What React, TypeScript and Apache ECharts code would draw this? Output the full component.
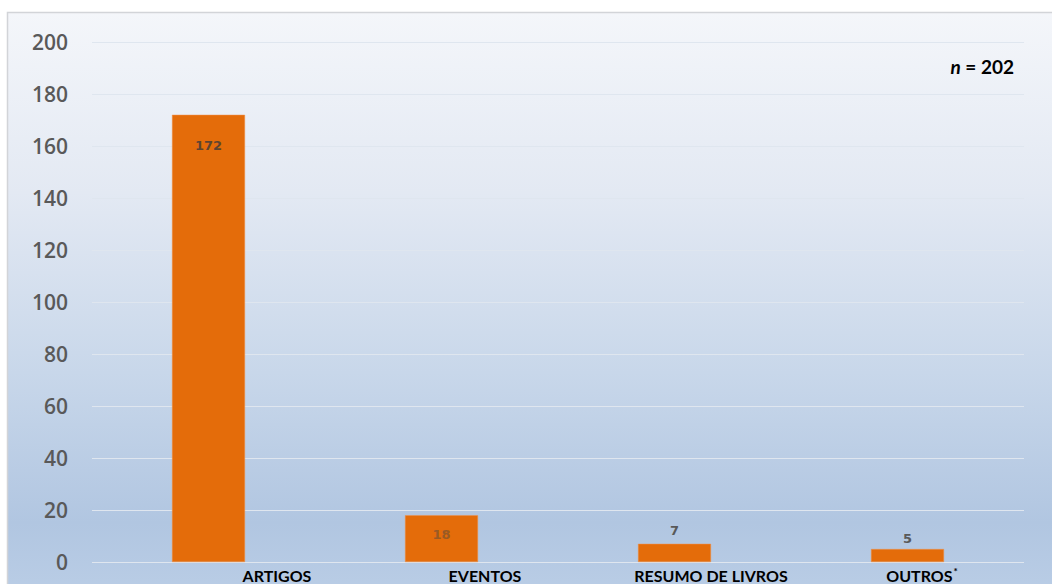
import React, { useEffect, useRef } from "react";
import * as echarts from "echarts";

const categories = ["ARTIGOS", "EVENTOS", "RESUMO DE LIVROS", "OUTROS"];
const values = [172, 18, 7, 5];
const yTicks = { min: 0, max: 200, interval: 20 };
const totalLabel = "202";

export default function App() {
  const ref = useRef<HTMLDivElement>(null);
  useEffect(() => {
    document.body.style.margin = "0";
    const chart = echarts.init(ref.current!, null, { renderer: "svg" });
    const labelStyles = [
      { position: "insideTop", distance: 24, color: "#5e4430" },
      { position: "insideTop", distance: 13, color: "#9a5a24" },
      { position: "top", distance: 7, color: "#595959" },
      { position: "top", distance: 4, color: "#595959" },
    ];
    const padLeft = [137, 87, 73, 29];
    const rich: any = {
      sup: { fontFamily: "Lato", fontWeight: "bold", fontSize: 10, lineHeight: 10, color: "#000", verticalAlign: "top", padding: [0, 0, 0, 1] },
    };
    padLeft.forEach((p, i) => {
      rich["c" + i] = { fontFamily: "Lato", fontWeight: "bold", fontSize: 16, lineHeight: 18, color: "#000", padding: [0, 0, 0, p] };
    });
    chart.setOption({
      animation: false,
      graphic: [
        {
          type: "rect",
          z: -100,
          silent: true,
          shape: { x: 7.5, y: 12.5, width: 1060, height: 600 },
          style: {
            fill: new echarts.graphic.LinearGradient(0, 0, 0, 1, [
              { offset: 0, color: "#f4f6fa" },
              { offset: 0.3, color: "#e3e9f3" },
              { offset: 0.6, color: "#c8d7ea" },
              { offset: 0.85, color: "#b1c6e1" },
              { offset: 1, color: "#bccfe7" },
            ]),
            stroke: "#d2d4d8",
            lineWidth: 1.5,
          },
        },
      ],
      title: {
        text: "{i|n}{b| = " + totalLabel + "}",
        right: 33,
        top: 52,
        textStyle: {
          rich: {
            i: { fontFamily: "Lato", fontStyle: "italic", fontWeight: "bold", fontSize: 19, color: "#000" },
            b: { fontFamily: "Lato", fontWeight: "bold", fontSize: 19, color: "#000" },
          },
        },
      },
      grid: { left: 92, right: 28, top: 42, bottom: 22, containLabel: false },
      xAxis: {
        type: "category",
        data: categories,
        axisLine: { show: false },
        axisTick: { show: false },
        axisLabel: {
          margin: 4,
          interval: 0,
          formatter: (v: string, i: number) =>
            i === 3 ? `{c${i}|${v}}{sup|*}` : `{c${i}|${v}}`,
          rich,
        },
      },
      yAxis: {
        type: "value",
        min: yTicks.min,
        max: yTicks.max,
        interval: yTicks.interval,
        axisLine: { show: false },
        axisTick: { show: false },
        axisLabel: { margin: 24, color: "#595959", fontSize: 21, fontWeight: 600, fontFamily: "Open Sans" },
        splitLine: { lineStyle: { color: "#dfe6ef", width: 1 } },
      },
      series: [
        {
          type: "bar",
          barWidth: 73,
          data: values.map((v, i) => ({
            value: v,
            label: {
              show: true,
              position: labelStyles[i].position,
              distance: labelStyles[i].distance,
              color: labelStyles[i].color,
              fontSize: 13,
              fontWeight: 600,
              fontFamily: "DejaVu Sans",
            },
          })),
          itemStyle: { color: "#e46c0a", borderColor: "#f0904a", borderWidth: 0.5 },
        },
      ],
    });
    return () => chart.dispose();
  }, []);
  return <div ref={ref} style={{ width: 1052, height: 584 }} />;
}
